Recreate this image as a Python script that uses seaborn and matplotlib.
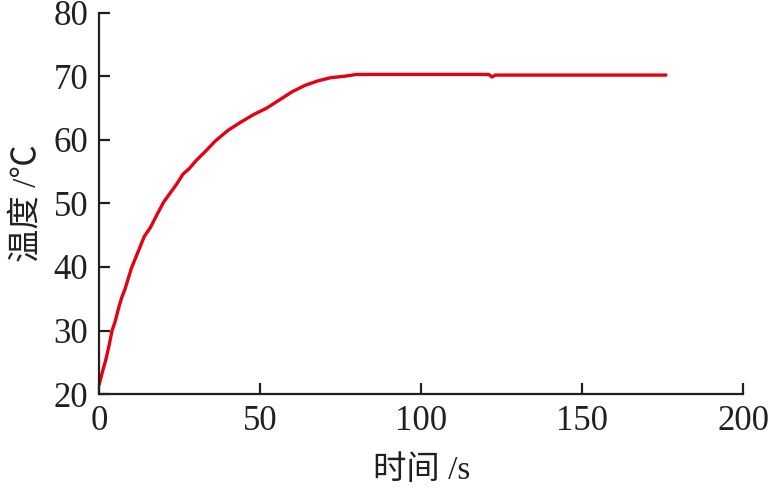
import numpy as np
import pandas as pd
import matplotlib
matplotlib.use('Agg')
import matplotlib.pyplot as plt
import seaborn as sns

# dane
czas = [0, 1, 2, 3, 4, 5, 6, 7, 8, 10, 12, 14, 16, 18, 20, 22, 24, 26, 28, 30,
        33, 36, 40, 44, 48, 52, 56, 60, 64, 68, 72, 76, 80, 90, 100, 110, 120,
        121, 122, 123, 124, 130, 140, 150, 160, 170, 176]
temperatura = [21.5, 23.5, 25.3, 27.5, 30.0, 31.5, 33.5, 35.2, 36.5, 39.8, 42.3,
               44.8, 46.3, 48.3, 50.2, 51.6, 53.0, 54.6, 55.5, 56.7, 58.2, 59.8,
               61.5, 62.8, 64.0, 65.0, 66.3, 67.6, 68.6, 69.3, 69.8, 70.0, 70.3,
               70.3, 70.3, 70.3, 70.3, 70.3, 69.9, 70.2, 70.2, 70.2, 70.2, 70.2,
               70.2, 70.2, 70.2]
x_ticks = [0, 50, 100, 150, 200]
y_ticks = [20, 30, 40, 50, 60, 70, 80]

sns.set_style('ticks')
plt.rcParams['font.family'] = ['Liberation Serif', 'Noto Sans CJK SC']
plt.rcParams['axes.unicode_minus'] = False

df = pd.DataFrame({'czas': czas, 'temperatura': temperatura})

fig = plt.figure(figsize=(7.75, 4.92), dpi=100)
ax = fig.add_axes([0.128, 0.199, 0.831, 0.775])
sns.lineplot(data=df, x='czas', y='temperatura', ax=ax, color='#e60012',
             linewidth=2.4)

ax.set_xlim(0, 200)
ax.set_ylim(20, 80)
ax.set_xticks(x_ticks)
ax.set_yticks(y_ticks)
ax.tick_params(direction='in', length=8, width=1.6, labelsize=25,
               colors='#231f20', pad=8)
for s in ['top', 'right']:
    ax.spines[s].set_visible(False)
for s in ['left', 'bottom']:
    ax.spines[s].set_linewidth(1.6)
    ax.spines[s].set_color('#231f20')

ax.set_xlabel('时间 /s', fontsize=24, color='#231f20', labelpad=12)
ax.set_ylabel('温度 /℃', fontsize=24, color='#231f20', labelpad=8)

fig.savefig('out.png', dpi=100)
